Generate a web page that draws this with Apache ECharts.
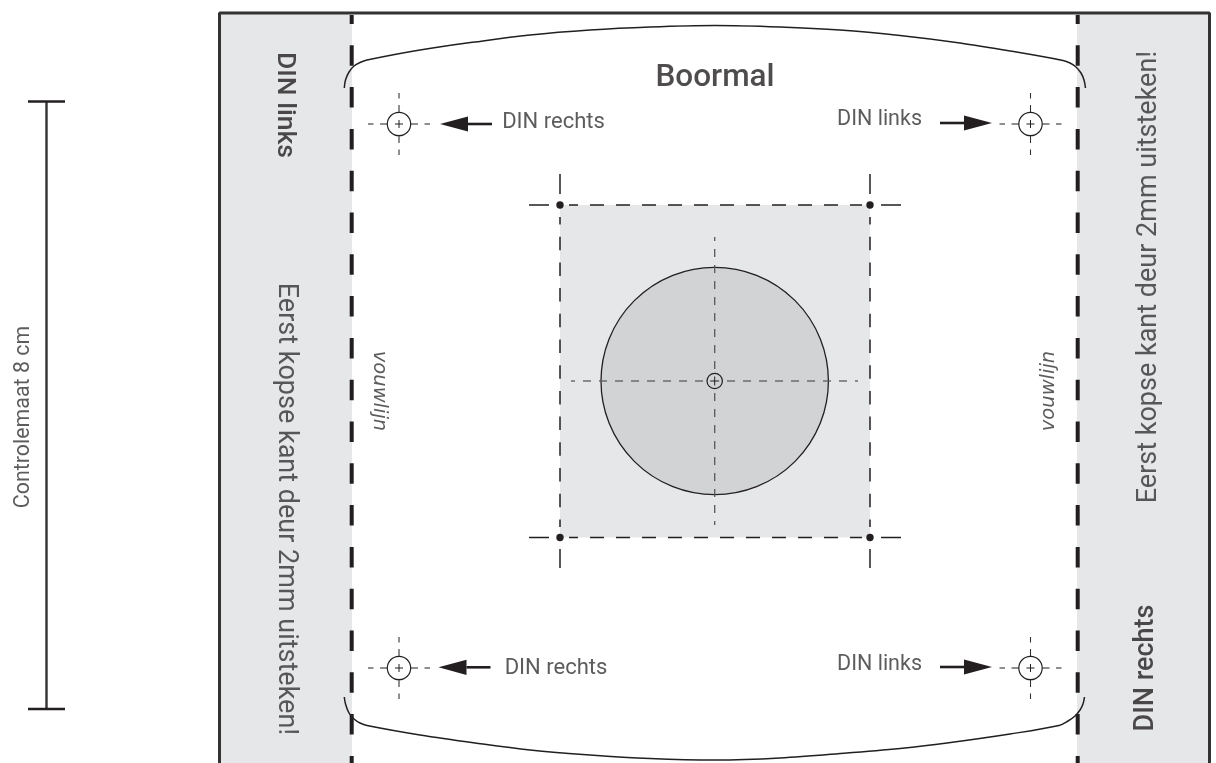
<!DOCTYPE html>
<html><head><meta charset="utf-8">
<style>html,body{margin:0;padding:0;background:#fff}#c{width:1216px;height:763px}</style>
<script src="https://cdn.jsdelivr.net/npm/echarts@6/dist/echarts.min.js"></script>
</head><body><div id="c"></div>
<script>
// All positions are values on the hidden 0-1216 / 0-763 drawing axes.
const sidePanels = [[220,13,352,763],[1077,13,1208,763]];
const centerSquare = [560,205,870,537.5];
const bigCircle = [714.7,381,113.7];
const frameTop = [[219.5,763],[219.5,13],[1209.5,13],[1209.5,763]];
const foldLeft = [[351.7,15],[351.7,763]];
const foldRight = [[1077.7,15],[1077.7,763]];
const curveTop = [[344.3,88],[345.5,80],[349,72],[354,66],[360,62.5],[367,60],[420,50],[475,42],[530,35],[590,30],[650,27],[715,25.5],[780,27],[840,30],[900,35.5],[960,43],[1010,51],[1063,60.5],[1070,63],[1076,67],[1081,73],[1084,80],[1085.5,88]];
const curveBottom = [[344.3,697],[345.5,704],[349,713],[354,719],[360,723],[367,725.5],[420,735],[475,743],[530,750],[590,755],[650,758.5],[715,760],[780,758],[847,753],[905,748],[947,743],[1010,734],[1059,725.5],[1068,721],[1075,716],[1080,710],[1083,704],[1084.5,697]];
const caliperStem = [[46.5,101.5],[46.5,709]];
const caliperCaps = [[[28,101.5],[65,101.5]],[[28,709],[65,709]]];
const cornerDots = [[560,205],[870,205],[560,537.5],[870,537.5]];
const cropSolid = [
  [[529,205],[549,205]],[[881,205],[901,205]],[[529,537.5],[549,537.5]],[[881,537.5],[901,537.5]],
  [[560,174],[560,194]],[[870,174],[870,194]],[[560,549],[560,568]],[[870,549],[870,568]]
];
const cropDashed = [
  [[569,205],[862,205]],[[569,537.5],[862,537.5]],
  [[560,217],[560,527]],[[870,217],[870,527]]
];
const axisDashed = [[[571,381],[858,381]],[[714.7,237],[714.7,525]]];
const targets = [[399,124],[1030.5,124],[399,668],[1030.5,668]];
const centerTarget = [714.7,381];
const arrowsLeft = [[440,492,124],[438.5,490.5,667.3]];
const arrowsRight = [[992,940,123],[992,940,667]];
const texts = [
  ['Boormal',715,78,31.5,500,0,'#231f20','normal','Roboto'],
  ['DIN links',285,105,26.5,500,-90,'#231f20','normal','Roboto'],
  ['DIN rechts',1146,668,27,500,90,'#231f20','normal','Roboto'],
  ['Eerst kopse kant deur 2mm uitsteken!',286,509,27,400,-90,'#333','normal','Roboto'],
  ['Eerst kopse kant deur 2mm uitsteken!',1149,277,27,400,90,'#333','normal','Roboto'],
  ['Controlemaat 8 cm',24,417,21.4,400,90,'#333','normal','Roboto'],
  ['DIN rechts',553.5,122,22,400,0,'#333','normal','Roboto'],
  ['DIN rechts',556,668,22,400,0,'#333','normal','Roboto'],
  ['DIN links',879.5,120,21.5,400,0,'#333','normal','Roboto'],
  ['DIN links',879.5,665,21.5,400,0,'#333','normal','Roboto'],
  ['vouwlijn',379,391,19.5,400,-90,'#333','italic','DejaVu Sans'],
  ['vouwlijn',1049,391,19.5,400,90,'#333','italic','DejaVu Sans']
];

const INK='#231f20', MID='#58595b';
const series=[];
function line(pts,w,color,z,opt){
  series.push(Object.assign({type:'line',data:pts,showSymbol:false,silent:true,animation:false,z:z,
    lineStyle:{width:w,color:color,type:(opt&&opt.dash)||'solid',dashOffset:(opt&&opt.off)||0,cap:'butt'}},opt&&opt.smooth?{smooth:opt.smooth}:{}));
}
function shapes(data,render,z){
  series.push({type:'custom',data:data,coordinateSystem:'cartesian2d',silent:true,animation:false,z:z,clip:false,
    encode:{x:0,y:1},renderItem:render});
}
function rectRender(fill){return (p,api)=>{
  const a=api.coord([api.value(0),api.value(1)]),b=api.coord([api.value(2),api.value(3)]);
  return {type:'rect',shape:{x:a[0],y:a[1],width:b[0]-a[0],height:b[1]-a[1]},style:{fill:fill}};
};}
function circleRender(r,fill,stroke,lw){return (p,api)=>{
  const c=api.coord([api.value(0),api.value(1)]);
  const rad=api.size([r,0])[0];
  return {type:'circle',shape:{cx:c[0],cy:c[1],r:rad},style:{fill:fill,stroke:stroke,lineWidth:lw}};
};}
shapes(sidePanels,rectRender('#e6e7e9'),1);
shapes([centerSquare],rectRender('#e6e7e9'),1);
shapes([bigCircle.slice(0,2)],circleRender(bigCircle[2],'#d1d3d4',INK,1.3),2);

line(frameTop,3,'#333',10);
line(foldLeft,4,INK,9,{dash:[20.5,21.3],off:11.5});
line(foldRight,4,INK,9,{dash:[20.5,21.3],off:11.5});
line(curveTop,1.5,INK,11,{smooth:0.35});
line(curveBottom,1.5,INK,11,{smooth:0.35});
line(caliperStem,2.4,'#333',10);
caliperCaps.forEach(s=>line(s,2.6,INK,10));

cropSolid.forEach(s=>line(s,1.5,INK,5));
line(cropDashed[0],1.5,INK,5,{dash:[14,12],off:5});
line(cropDashed[1],1.5,INK,5,{dash:[14,12],off:5});
line(cropDashed[2],1.5,INK,5,{dash:[13.5,12.2],off:6});
line(cropDashed[3],1.5,INK,5,{dash:[13.5,12.2],off:6});
line(axisDashed[0],1.3,MID,6,{dash:[8,8],off:4});
line(axisDashed[1],1.3,MID,6,{dash:[8,8],off:4});
shapes(cornerDots,circleRender(3.7,INK,'none',0),7);

// registration targets
const rO=11.7, tickSpans=[[11.7,19],[25.5,31]];
targets.forEach(t=>{
  tickSpans.forEach(sp=>{
    [[1,0],[-1,0],[0,1],[0,-1]].forEach(d=>{
      line([[t[0]+d[0]*sp[0],t[1]+d[1]*sp[0]],[t[0]+d[0]*sp[1],t[1]+d[1]*sp[1]]],1.1,'#333',6);
    });
  });
  line([[t[0]-4,t[1]],[t[0]+4,t[1]]],1,INK,8);
  line([[t[0],t[1]-4],[t[0],t[1]+4]],1,INK,8);
});
shapes(targets,circleRender(rO,'none',INK,1.2),7);
shapes([centerTarget],circleRender(7.7,'#d1d3d4',INK,1.2),7);
line([[centerTarget[0]-4.5,centerTarget[1]],[centerTarget[0]+4.5,centerTarget[1]]],1,INK,8);
line([[centerTarget[0],centerTarget[1]-4.5],[centerTarget[0],centerTarget[1]+4.5]],1,INK,8);

// arrows
function arrow(a){
  const tip=a[0],tail=a[1],y=a[2],dir=tail>tip?1:-1,base=tip+dir*28;
  line([[base,y],[tail,y]],2.6,INK,8);
  series.push({type:'custom',data:[[tip,y]],silent:true,animation:false,z:8,encode:{x:0,y:1},clip:false,
    renderItem:(p,api)=>{
      const P=q=>api.coord(q);
      return {type:'polygon',shape:{points:[P([tip,y]),P([base,y-7.6]),P([base,y+7.6])]},style:{fill:INK}};
    }});
}
arrowsLeft.forEach(arrow);arrowsRight.forEach(arrow);

// text
series.push({type:'scatter',symbolSize:1,silent:true,animation:false,z:20,itemStyle:{color:'rgba(0,0,0,0)'},
  data:texts.map(t=>({value:[t[1],t[2]],label:{show:true,position:'inside',formatter:t[0],fontFamily:t[8],fontSize:t[3],fontWeight:t[4],rotate:t[5],color:t[6],fontStyle:t[7],align:'center',verticalAlign:'middle'}}))
});

const chart=echarts.init(document.getElementById('c'),null,{renderer:'canvas'});
chart.setOption({animation:false,backgroundColor:'#fff',
  grid:{left:0,right:0,top:0,bottom:0},
  xAxis:{type:'value',min:0,max:1216,show:false},
  yAxis:{type:'value',min:0,max:763,inverse:true,show:false},
  series:series});
</script></body></html>
